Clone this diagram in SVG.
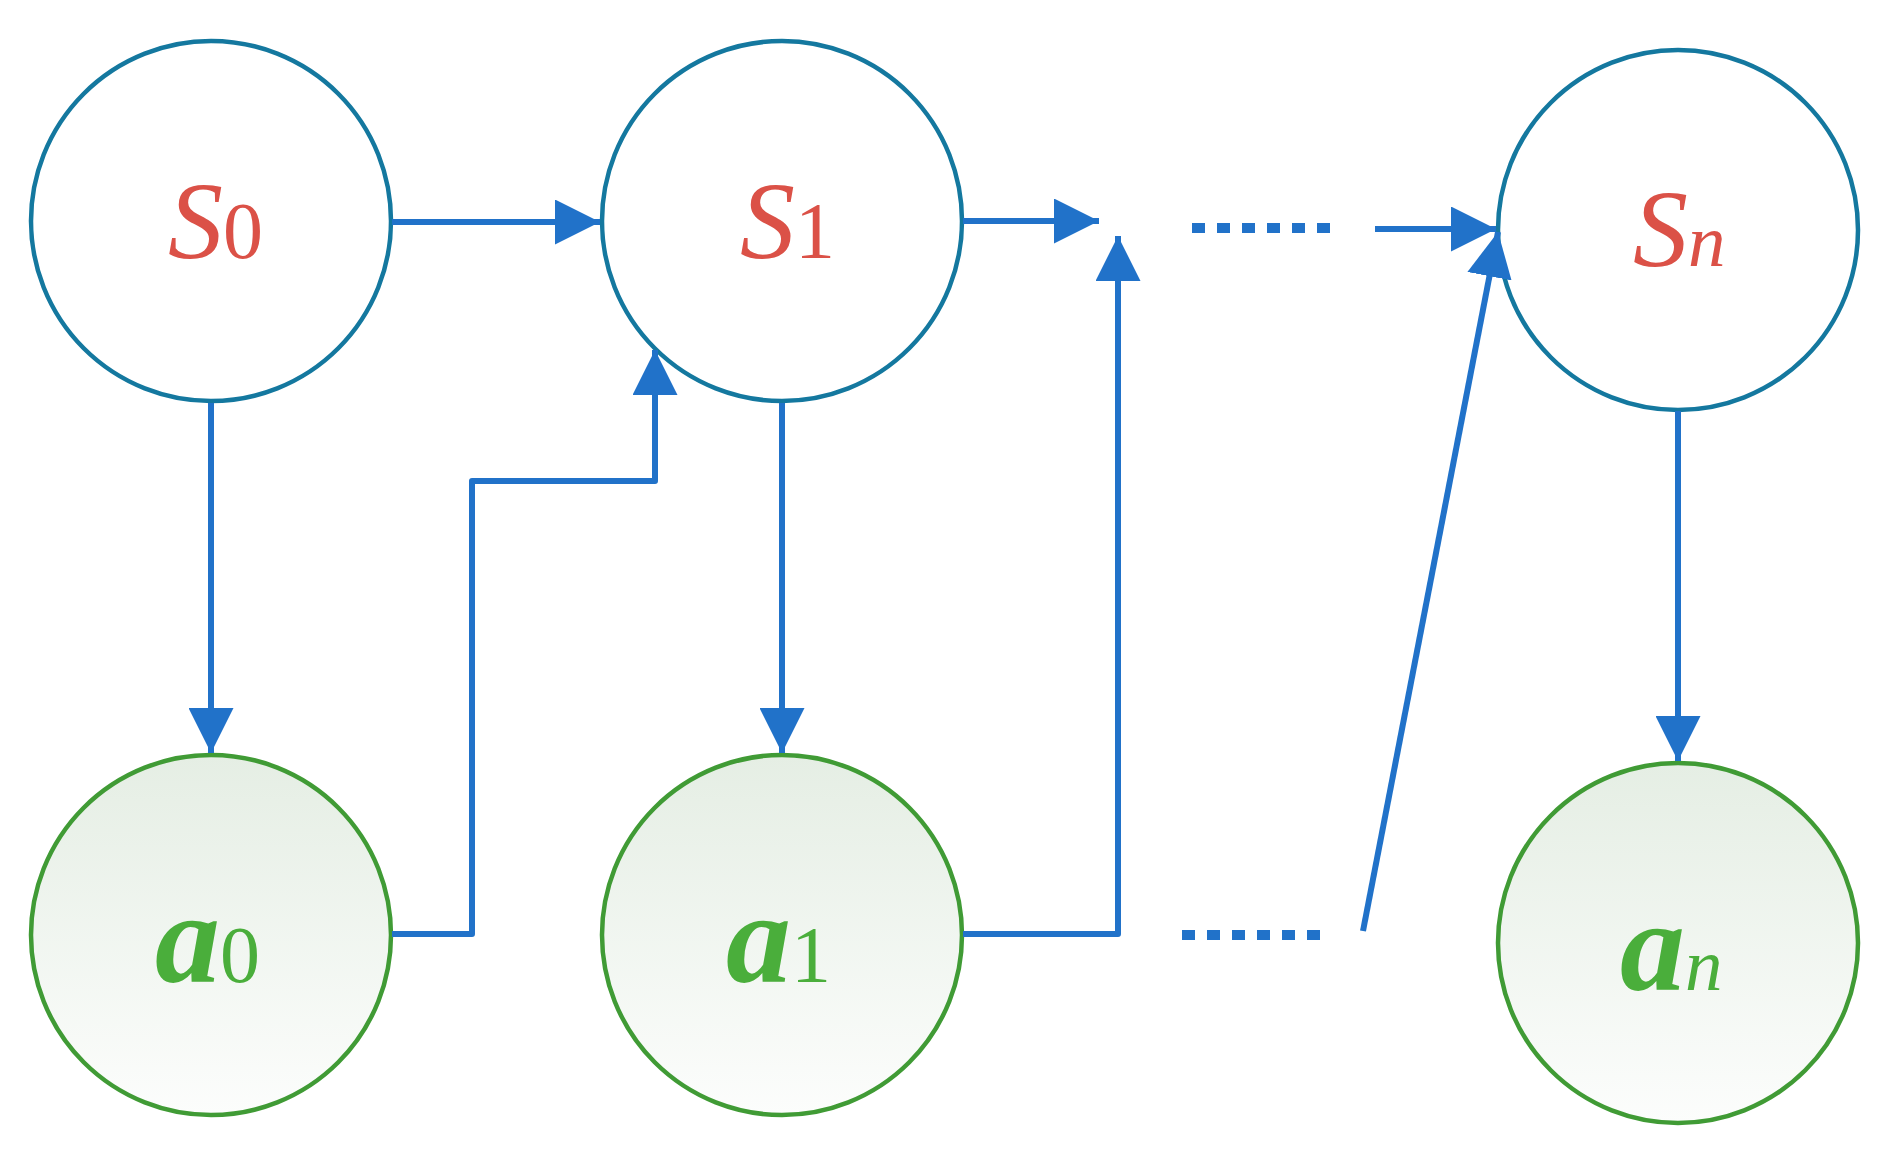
<svg xmlns="http://www.w3.org/2000/svg" width="1892" height="1163" viewBox="0 0 1892 1163">
<style>
.s{fill:#fff;stroke:#14789f;stroke-width:4.5}
.a{fill:url(#g);stroke:#409b35;stroke-width:4.5}
.c{fill:none;stroke:#2172c9;stroke-width:6;stroke-linejoin:round}
.d{fill:none;stroke:#2172c9;stroke-width:10;stroke-dasharray:13 12}
.ts{font-family:"Liberation Serif",serif;font-style:italic;fill:#db5147;font-size:110px}
.ta{font-family:"Liberation Serif",serif;font-style:italic;font-weight:bold;fill:#4aae3b;font-size:130px}
.sub{font-style:normal;font-weight:normal;font-size:80px}
.subn{font-weight:normal;font-size:75px}
</style>
<defs>
<linearGradient id="g" x1="0" y1="0" x2="0" y2="1"><stop offset="0" stop-color="#e5eee4"/><stop offset="1" stop-color="#fcfdfc"/></linearGradient>
<marker id="ar" viewBox="0 0 10 10" refX="10" refY="5" markerWidth="7.5" markerHeight="7.5" markerUnits="strokeWidth" orient="auto"><path d="M0,0L10,5L0,10z" fill="#2172c9"/></marker>
</defs>
<g id="S0"><circle class="s" cx="211" cy="221" r="180"/><text class="ts" x="168" y="258">S<tspan class="sub">0</tspan></text></g>
<g id="S1"><circle class="s" cx="782" cy="221" r="180"/><text class="ts" x="740" y="258">S<tspan class="sub">1</tspan></text></g>
<g id="Sn"><circle class="s" cx="1678" cy="230" r="180"/><text class="ts" x="1633" y="266">S<tspan class="subn">n</tspan></text></g>
<g id="a0"><circle class="a" cx="211" cy="935" r="180"/><text class="ta" x="155" y="982">a<tspan class="sub">0</tspan></text></g>
<g id="a1"><circle class="a" cx="782" cy="935" r="180"/><text class="ta" x="726" y="982">a<tspan class="sub">1</tspan></text></g>
<g id="an"><circle class="a" cx="1678" cy="943" r="180"/><text class="ta" x="1620" y="990">a<tspan class="subn">n</tspan></text></g>
<g id="connectors">
<path class="c" d="M392,222H600" marker-end="url(#ar)"/>
<path class="c" d="M211,403V753" marker-end="url(#ar)"/>
<path class="c" d="M782,403V753" marker-end="url(#ar)"/>
<path class="c" d="M1678,411V761" marker-end="url(#ar)"/>
<path class="c" d="M392,934H472V481H655V350" marker-end="url(#ar)"/>
<path class="c" d="M963,221H1099" marker-end="url(#ar)"/>
<path class="c" d="M963,934H1118V236" marker-end="url(#ar)"/>
<path class="c" d="M1375,229H1496" marker-end="url(#ar)"/>
<path class="c" d="M1363,931L1498,232" marker-end="url(#ar)"/>
<path class="d" d="M1192,228H1330"/>
<path class="d" d="M1182,935H1320"/>
</g>
</svg>
